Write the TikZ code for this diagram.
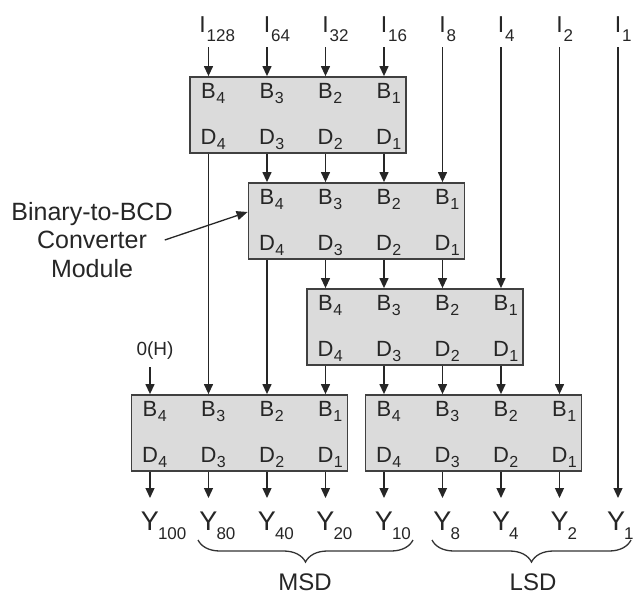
\documentclass[tikz,border=0pt]{standalone}
\usepackage{fontspec}
\setmainfont{Liberation Sans}
\usetikzlibrary{arrows.meta,decorations.pathreplacing}
\newcommand{\pinlbl}[2]{#1\rlap{\kern0.5pt\raisebox{-5pt}{\fontsize{16}{16}\selectfont #2}}}
\newcommand{\iolbl}[2]{#1\rlap{\kern1pt\raisebox{-9pt}{\fontsize{17}{17}\selectfont #2}}}
\newcommand{\outlbl}[2]{#1\rlap{\kern-1pt\raisebox{-9pt}{\fontsize{17}{17}\selectfont #2}}}
\newcommand{\mkbox}[3]{%
  \node[modbox] (#1) at ({150+58.5*#2+89.5},{#3+38}) {};
  \foreach \j/\n in {0/4,1/3,2/2,3/1}{
    \node[pinlab] (#1B\n) at ({150+58.5*(#2+\j)},{#3+21}) {\pinlbl{B}{\n}};
    \node[pinlab] (#1D\n) at ({150+58.5*(#2+\j)},{#3+67}) {\pinlbl{D}{\n}};
  }%
}
\begin{document}
\begin{tikzpicture}[x=1pt,y=-1pt,
  modbox/.style={draw=black!75, line width=1.8pt, fill=black!14, minimum width=216pt, minimum height=76pt, inner sep=0pt},
  pinlab/.style={anchor=base, inner sep=0pt, font=\fontsize{22}{22}\selectfont, text=black!85},
  inlab/.style={anchor=base, inner sep=0pt, font=\fontsize{23}{23}\selectfont, text=black!85},
  outlab/.style={anchor=base, inner sep=0pt, font=\fontsize{27}{27}\selectfont, text=black!85},
  arr/.style={draw=black!85, line width=1.3pt, -{Triangle[length=10pt,width=9pt]}},
  brc/.style={draw=black!80, line width=1.3pt, decorate, decoration={brace, amplitude=22pt}}]
\useasboundingbox (0,0) rectangle (635,597);

% boxes
\mkbox{b1}{1}{77}
\mkbox{b2}{2}{183}
\mkbox{b3}{3}{289}
\mkbox{b4}{0}{395}
\mkbox{b5}{4}{395}

% input labels
\node[inlab] (i128) at ({150+58.5*1-6},32) {\iolbl{I}{128}};
\node[inlab] (i64) at ({150+58.5*2},32) {\iolbl{I}{64}};
\node[inlab] (i32) at ({150+58.5*3},32) {\iolbl{I}{32}};
\node[inlab] (i16) at ({150+58.5*4},32) {\iolbl{I}{16}};
\node[inlab] (i8) at ({150+58.5*5},32) {\iolbl{I}{8}};
\node[inlab] (i4) at ({150+58.5*6},32) {\iolbl{I}{4}};
\node[inlab] (i2) at ({150+58.5*7},32) {\iolbl{I}{2}};
\node[inlab] (i1) at ({150+58.5*8},32) {\iolbl{I}{1}};

% output labels
\node[outlab] (y100) at ({150+58.5*0},530) {\outlbl{Y}{100}};
\node[outlab] (y80) at ({150+58.5*1},530) {\outlbl{Y}{80}};
\node[outlab] (y40) at ({150+58.5*2},530) {\outlbl{Y}{40}};
\node[outlab] (y20) at ({150+58.5*3},530) {\outlbl{Y}{20}};
\node[outlab] (y10) at ({150+58.5*4},530) {\outlbl{Y}{10}};
\node[outlab] (y8) at ({150+58.5*5},530) {\outlbl{Y}{8}};
\node[outlab] (y4) at ({150+58.5*6},530) {\outlbl{Y}{4}};
\node[outlab] (y2) at ({150+58.5*7},530) {\outlbl{Y}{2}};
\node[outlab] (y1) at ({150+58.5*8-2},530) {\outlbl{Y}{1}};

\coordinate (itop) at (0,47);
\coordinate (yend) at (0,498);

% 0(H)
\node[anchor=base, inner sep=0pt, font=\fontsize{19}{19}\selectfont, text=black!85] (zero) at (155,355) {0(H)};
\coordinate (ztop) at (0,367);
\draw[arr] (ztop -| b4B4) -- (b4B4 |- b4.north);

% converter annotation
\node[align=center, inner sep=0pt, font=\fontsize{25}{28.5}\selectfont, text=black!85] (conv) at (92,240) {Binary-to-BCD\\Converter\\Module};
\draw[draw=black!85, line width=1.3pt, -{Triangle[length=11pt,width=9pt]}] ([xshift=-8pt]conv.east) -- ([yshift=9pt]b2.west);

% inputs
\draw[arr] (itop -| b1B4) -- (b1B4 |- b1.north);
\draw[arr] (itop -| b1B3) -- (b1B3 |- b1.north);
\draw[arr] (itop -| b1B2) -- (b1B2 |- b1.north);
\draw[arr] (itop -| b1B1) -- (b1B1 |- b1.north);
\draw[arr] (itop -| b2B1) -- (b2B1 |- b2.north);
\draw[arr] (itop -| b3B1) -- (b3B1 |- b3.north);
\draw[arr] (itop -| b5B1) -- (b5B1 |- b5.north);
\coordinate (c8) at ({150+58.5*8},0);
\draw[arr] (itop -| c8) -- (yend -| c8);

% box1 outputs
\draw[arr] (b1D4 |- b1.south) -- (b4B3 |- b4.north);
\draw[arr] (b1D3 |- b1.south) -- (b2B4 |- b2.north);
\draw[arr] (b1D2 |- b1.south) -- (b2B3 |- b2.north);
\draw[arr] (b1D1 |- b1.south) -- (b2B2 |- b2.north);
% box2 outputs
\draw[arr] (b2D4 |- b2.south) -- (b4B2 |- b4.north);
\draw[arr] (b2D3 |- b2.south) -- (b3B4 |- b3.north);
\draw[arr] (b2D2 |- b2.south) -- (b3B3 |- b3.north);
\draw[arr] (b2D1 |- b2.south) -- (b3B2 |- b3.north);
% box3 outputs
\draw[arr] (b3D4 |- b3.south) -- (b4B1 |- b4.north);
\draw[arr] (b3D3 |- b3.south) -- (b5B4 |- b5.north);
\draw[arr] (b3D2 |- b3.south) -- (b5B3 |- b5.north);
\draw[arr] (b3D1 |- b3.south) -- (b5B2 |- b5.north);
% final outputs
\draw[arr] (b4D4 |- b4.south) -- (yend -| y100);
\draw[arr] (b4D3 |- b4.south) -- (yend -| y80);
\draw[arr] (b4D2 |- b4.south) -- (yend -| y40);
\draw[arr] (b4D1 |- b4.south) -- (yend -| y20);
\draw[arr] (b5D4 |- b5.south) -- (yend -| y10);
\draw[arr] (b5D3 |- b5.south) -- (yend -| y8);
\draw[arr] (b5D2 |- b5.south) -- (yend -| y4);
\draw[arr] (b5D1 |- b5.south) -- (yend -| y2);

% braces
\draw[brc] (413,540) -- (198,540);
\draw[brc] (631,540) -- (432,540);
\node[anchor=base, inner sep=0pt, font=\fontsize{24}{24}\selectfont, text=black!85] (msd) at (305,590) {MSD};
\node[anchor=base, inner sep=0pt, font=\fontsize{24}{24}\selectfont, text=black!85] (lsd) at (533,590) {LSD};
\end{tikzpicture}
\end{document}
